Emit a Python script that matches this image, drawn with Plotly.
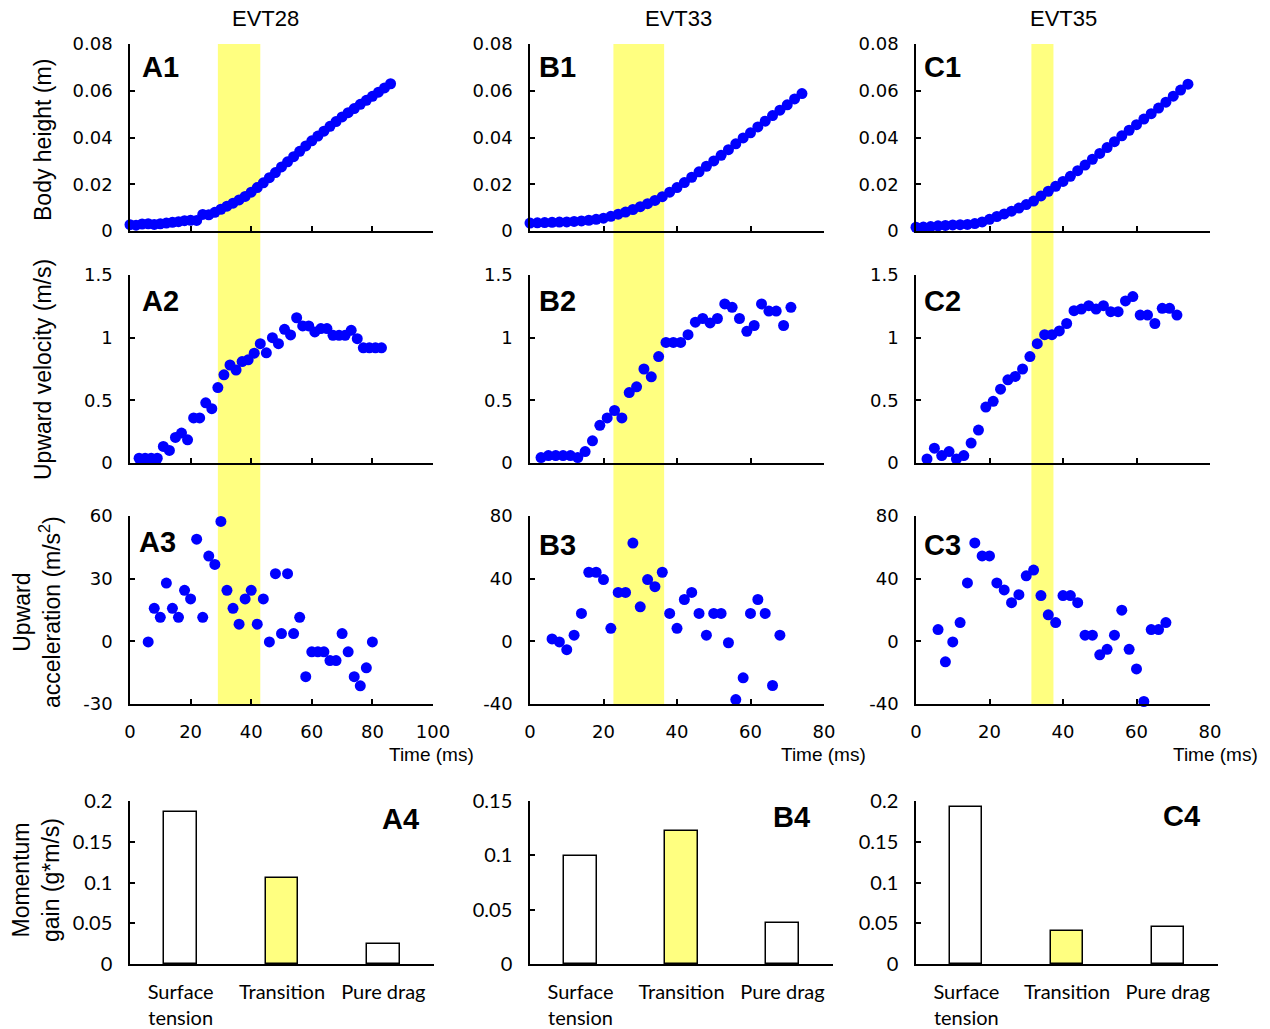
import plotly.graph_objects as go

W, H = 1270, 1029

# ---- sample times (ms) ----
t_h_A = [0, 2, 4, 6, 8, 10, 12, 14, 16, 18, 20, 22, 24, 26, 28, 30, 32, 34, 36, 38, 40, 42,
         44, 46, 48, 50, 52, 54, 56, 58, 60, 62, 64, 66, 68, 70, 72, 74, 76, 78, 80, 82, 84, 86]
t_v_A = [3, 5, 7, 9, 11, 13, 15, 17, 19, 21, 23, 25, 27, 29, 31, 33, 35, 37, 39, 41, 43,
         45, 47, 49, 51, 53, 55, 57, 59, 61, 63, 65, 67, 69, 71, 73, 75, 77, 79, 81, 83]
t_a_A = [6, 8, 10, 12, 14, 16, 18, 20, 22, 24, 26, 28, 30, 32, 34, 36, 38, 40, 42, 44, 46,
         48, 50, 52, 54, 56, 58, 60, 62, 64, 66, 68, 70, 72, 74, 76, 78, 80]
t_h_BC = [0, 2, 4, 6, 8, 10, 12, 14, 16, 18, 20, 22, 24, 26, 28, 30, 32, 34, 36, 38, 40,
          42, 44, 46, 48, 50, 52, 54, 56, 58, 60, 62, 64, 66, 68, 70, 72, 74]
t_v_BC = [3, 5, 7, 9, 11, 13, 15, 17, 19, 21, 23, 25, 27, 29, 31, 33, 35, 37, 39, 41, 43,
          45, 47, 49, 51, 53, 55, 57, 59, 61, 63, 65, 67, 69, 71]
t_a_BC = [6, 8, 10, 12, 14, 16, 18, 20, 22, 24, 26, 28, 30, 32, 34, 36, 38, 40, 42, 44, 46,
          48, 50, 52, 54, 56, 58, 60, 62, 64, 66, 68]

# ---- EVT28 ----
height_A = [0.0027, 0.0025, 0.0030, 0.0031, 0.0028, 0.0031, 0.0034, 0.0037, 0.0040, 0.0044,
            0.0046, 0.0045, 0.0071, 0.0069, 0.0080, 0.0093, 0.0106, 0.0119, 0.0133, 0.0148,
            0.0166, 0.0186, 0.0206, 0.0228, 0.0250, 0.0274, 0.0296, 0.0318, 0.0341, 0.0364,
            0.0386, 0.0406, 0.0427, 0.0448, 0.0468, 0.0488, 0.0506, 0.0524, 0.0542, 0.0559,
            0.0576, 0.0594, 0.0612, 0.0630]
velocity_A = [0.038, 0.038, 0.038, 0.038, 0.132, 0.10, 0.204, 0.239, 0.185, 0.36, 0.36, 0.48,
              0.433, 0.602, 0.704, 0.782, 0.742, 0.809, 0.823, 0.876, 0.952, 0.879, 1.0, 0.952,
              1.067, 1.022, 1.159, 1.094, 1.094, 1.046, 1.073, 1.073, 1.019, 1.019, 1.019,
              1.059, 0.992, 0.919, 0.919, 0.919, 0.919]
accel_A = [-0.3, 15.8, 11.5, 27.9, 15.8, 11.5, 24.4, 20.3, 48.9, 11.5, 40.8, 36.8, 57.4, 24.4,
           15.8, 8.2, 20.3, 24.4, 8.2, 20.3, -0.3, 32.4, 3.7, 32.4, 3.7, 11.5, -16.9, -5.0,
           -5.0, -5.0, -9.2, -9.2, 3.7, -5.0, -16.9, -21.3, -12.7, -0.3]

# ---- EVT33 ----
height_B = [0.0034, 0.0035, 0.0036, 0.0037, 0.0038, 0.0039, 0.0041, 0.0043, 0.0046, 0.0050,
            0.0055, 0.0063, 0.0072, 0.0081, 0.0092, 0.0104, 0.0117, 0.0131, 0.0147, 0.0166,
            0.0186, 0.0207, 0.0230, 0.0253, 0.0277, 0.0300, 0.0324, 0.0348, 0.0373, 0.0398,
            0.0420, 0.0445, 0.0470, 0.0494, 0.0517, 0.0540, 0.0565, 0.0588]
velocity_B = [0.043, 0.059, 0.059, 0.059, 0.059, 0.043, 0.091, 0.177, 0.301, 0.36, 0.419,
              0.36, 0.562, 0.608, 0.75, 0.688, 0.849, 0.962, 0.962, 0.962, 1.024, 1.124,
              1.153, 1.118, 1.153, 1.269, 1.242, 1.153, 1.051, 1.097, 1.269, 1.212, 1.212,
              1.097, 1.242]
accel_B = [1.5, -0.4, -5.3, 3.9, 17.8, 44.1, 44.1, 39.4, 8.3, 31.2, 31.2, 62.7, 22.0, 39.4,
           34.9, 44.1, 17.8, 8.3, 26.7, 31.2, 17.8, 3.9, 17.8, 17.8, -0.9, -37.2, -23.3, 17.8,
           26.7, 17.8, -28.2, 3.9]

# ---- EVT35 ----
height_C = [0.0016, 0.0017, 0.0019, 0.0022, 0.0024, 0.0026, 0.0027, 0.0028, 0.0032, 0.0039,
            0.0050, 0.0062, 0.0073, 0.0085, 0.0098, 0.0113, 0.0128, 0.0150, 0.0170, 0.0191,
            0.0212, 0.0234, 0.0258, 0.0282, 0.0307, 0.0332, 0.0357, 0.0382, 0.0407, 0.0431,
            0.0455, 0.0479, 0.0502, 0.0526, 0.0551, 0.0577, 0.0603, 0.0628]
velocity_C = [0.032, 0.118, 0.059, 0.091, 0.032, 0.059, 0.159, 0.263, 0.446, 0.492, 0.589,
              0.664, 0.691, 0.75, 0.849, 0.952, 1.024, 1.024, 1.054, 1.113, 1.215, 1.228,
              1.255, 1.228, 1.255, 1.207, 1.207, 1.293, 1.328, 1.18, 1.18, 1.113, 1.234,
              1.234, 1.18]
accel_C = [7.5, -13.1, -0.4, 12.0, 37.3, 62.8, 54.5, 54.5, 37.3, 32.8, 24.7, 29.8, 41.8, 45.5,
           29.2, 16.9, 12.0, 29.2, 29.2, 24.7, 3.9, 3.9, -8.6, -5.1, 3.9, 19.9, -5.1, -17.6,
           -38.4, 7.5, 7.5, 12.0]

# ---- transition windows (ms) ----
transition_A = [29.0, 43.0]
transition_B = [22.7, 36.5]
transition_C = [31.4, 37.4]

# ---- momentum gain per phase ----
phases = ["Surface tension", "Transition", "Pure drag"]
phase_labels = ["Surface<br>tension", "Transition", "Pure drag"]
momentum_A = [0.187, 0.105, 0.024]
momentum_B = [0.099, 0.122, 0.038]
momentum_C = [0.193, 0.041, 0.046]

events = ["EVT28", "EVT33", "EVT35"]

BLUE = "#0000FF"
YELLOW = "#FFFF80"
TICK_FONT = dict(family="DejaVu Sans, Verdana, sans-serif", size=18, color="#000")
BAR_FONT = dict(family="Lato, Calibri, sans-serif", size=20, color="#000")
TITLE_FONT = dict(family="Liberation Sans, Arial, sans-serif", size=23, color="#000")
LABEL_FONT = dict(family="Liberation Sans, Arial, sans-serif", size=29, color="#000")


def px(x):
    return x / W


def py(y):
    return 1 - y / H


col_x = [(130, 433), (530, 824), (916, 1210)]
bar_x = [(130, 434), (530, 833), (916, 1218)]
row_y = [(44, 231), (275, 463), (516, 704)]
bar_y = (801, 964)

fig = go.Figure()
layout = {}

series = [
    (t_h_A, height_A, t_v_A, velocity_A, t_a_A, accel_A),
    (t_h_BC, height_B, t_v_BC, velocity_B, t_a_BC, accel_B),
    (t_h_BC, height_C, t_v_BC, velocity_C, t_a_BC, accel_C),
]
x_ranges = [[0, 100], [0, 80], [0, 80]]
x_ticks = [[0, 20, 40, 60, 80, 100], [0, 20, 40, 60, 80], [0, 20, 40, 60, 80]]
y_specs = [
    [([0, 0.08], [0, 0.02, 0.04, 0.06, 0.08], ["0", "0.02", "0.04", "0.06", "0.08"])] * 3,
    [([0, 1.5], [0, 0.5, 1, 1.5], ["0", "0.5", "1", "1.5"])] * 3,
    [([-30, 60], [-30, 0, 30, 60], ["-30", "0", "30", "60"]),
     ([-40, 80], [-40, 0, 40, 80], ["-40", "0", "40", "80"]),
     ([-40, 80], [-40, 0, 40, 80], ["-40", "0", "40", "80"])],
]

axis_common = dict(showline=True, linecolor="#000", linewidth=1.5, ticks="inside",
                   ticklen=5, tickwidth=1.5, tickcolor="#000", showgrid=False,
                   zeroline=False, tickfont=TICK_FONT, automargin=False)

idx = 0
for r in range(3):
    for c in range(3):
        idx += 1
        xs, ys = series[c][2 * r], series[c][2 * r + 1]
        suffix = "" if idx == 1 else str(idx)
        fig.add_trace(go.Scatter(
            x=xs, y=ys, mode="markers", cliponaxis=False,
            marker=dict(color=BLUE, size=11, line=dict(width=0)),
            xaxis="x" + suffix, yaxis="y" + suffix, showlegend=False))
        yr, yt, ytt = y_specs[r][c]
        layout["xaxis" + suffix] = dict(
            axis_common, domain=[px(col_x[c][0]), px(col_x[c][1])], range=x_ranges[c],
            tickvals=x_ticks[c], showticklabels=(r == 2), ticklabelstandoff=11,
            anchor="y" + suffix)
        layout["yaxis" + suffix] = dict(
            axis_common, domain=[py(row_y[r][1]), py(row_y[r][0])], range=yr,
            tickvals=yt, ticktext=ytt, ticklabelstandoff=12, anchor="x" + suffix)

bar_sets = [momentum_A, momentum_B, momentum_C]
bar_ranges = [[0, 0.2], [0, 0.15], [0, 0.2]]
bar_ticks = [[0, 0.05, 0.1, 0.15, 0.2], [0, 0.05, 0.1, 0.15], [0, 0.05, 0.1, 0.15, 0.2]]
bar_ticktext = [["0", "0.05", "0.1", "0.15", "0.2"], ["0", "0.05", "0.1", "0.15"],
                ["0", "0.05", "0.1", "0.15", "0.2"]]
for c in range(3):
    idx += 1
    suffix = str(idx)
    fig.add_trace(go.Bar(
        x=phases, y=bar_sets[c], width=0.32,
        marker=dict(color=["#FFFFFF", YELLOW, "#FFFFFF"], line=dict(color="#000", width=1.5)),
        xaxis="x" + suffix, yaxis="y" + suffix, showlegend=False))
    layout["xaxis" + suffix] = dict(
        showline=True, linecolor="#000", linewidth=1.5, ticks="", showgrid=False,
        zeroline=False, type="category", range=[-0.5, 2.5], automargin=False,
        tickvals=phases, ticktext=phase_labels, tickfont=BAR_FONT, ticklabelstandoff=9,
        domain=[px(bar_x[c][0]), px(bar_x[c][1])], anchor="y" + suffix)
    layout["yaxis" + suffix] = dict(
        axis_common, tickfont=BAR_FONT, range=bar_ranges[c], tickvals=bar_ticks[c],
        ticktext=bar_ticktext[c], ticklabelstandoff=12,
        domain=[py(bar_y[1]), py(bar_y[0])], anchor="x" + suffix)

# shaded transition windows spanning the three time-series rows
shapes = []
for xref, (x0, x1) in zip(["x", "x2", "x3"], [transition_A, transition_B, transition_C]):
    shapes.append(dict(type="rect", xref=xref, yref="paper", x0=x0, x1=x1,
                       y0=py(704), y1=py(44), fillcolor=YELLOW, line=dict(width=0),
                       layer="below"))

annotations = []
# event titles
for name, xc in zip(events, [265, 678, 1063]):
    annotations.append(dict(text=name, x=px(xc), y=py(18), xref="paper", yref="paper",
                            showarrow=False, xanchor="center", yanchor="middle",
                            font=dict(family="Liberation Sans, Arial, sans-serif", size=22,
                                      color="#000")))
# panel labels
panel_pos = [
    ("A1", 140, 67), ("B1", 537, 67), ("C1", 922, 67),
    ("A2", 140, 301), ("B2", 537, 301), ("C2", 922, 301),
    ("A3", 137, 542), ("B3", 537, 545), ("C3", 922, 545),
]
for txt, x, y in panel_pos:
    annotations.append(dict(text="<b>%s</b>" % txt, x=px(x), y=py(y), xref="paper",
                            yref="paper", showarrow=False, xanchor="left",
                            yanchor="middle", font=LABEL_FONT))
for txt, x, y in [("A4", 421, 819), ("B4", 812, 817), ("C4", 1202, 816)]:
    annotations.append(dict(text="<b>%s</b>" % txt, x=px(x), y=py(y), xref="paper",
                            yref="paper", showarrow=False, xanchor="right",
                            yanchor="middle", font=LABEL_FONT))
# time axis titles
for xr in [476, 868, 1260]:
    annotations.append(dict(text="Time (ms)", x=px(xr), y=py(754), xref="paper",
                            yref="paper", showarrow=False, xanchor="right",
                            yanchor="middle",
                            font=dict(family="Liberation Sans, Arial, sans-serif", size=19,
                                      color="#000")))
# y-axis titles
ytitles = [
    ("Body height (m)", 43, 140),
    ("Upward velocity (m/s)", 43, 370),
    ("Upward<br>acceleration (m/s<sup>2</sup>)", 37, 612),
    ("Momentum<br>gain (g*m/s)", 36, 880),
]
for txt, x, y in ytitles:
    annotations.append(dict(text=txt, x=px(x), y=py(y), xref="paper", yref="paper",
                            showarrow=False, textangle=-90, xanchor="center",
                            yanchor="middle", align="center", font=TITLE_FONT))

fig.update_layout(
    width=W, height=H, autosize=False,
    margin=dict(l=0, r=0, t=0, b=0, pad=0, autoexpand=False),
    paper_bgcolor="#FFFFFF", plot_bgcolor="rgba(0,0,0,0)",
    bargap=0, shapes=shapes, annotations=annotations, **layout)

fig.write_html("out.html")
